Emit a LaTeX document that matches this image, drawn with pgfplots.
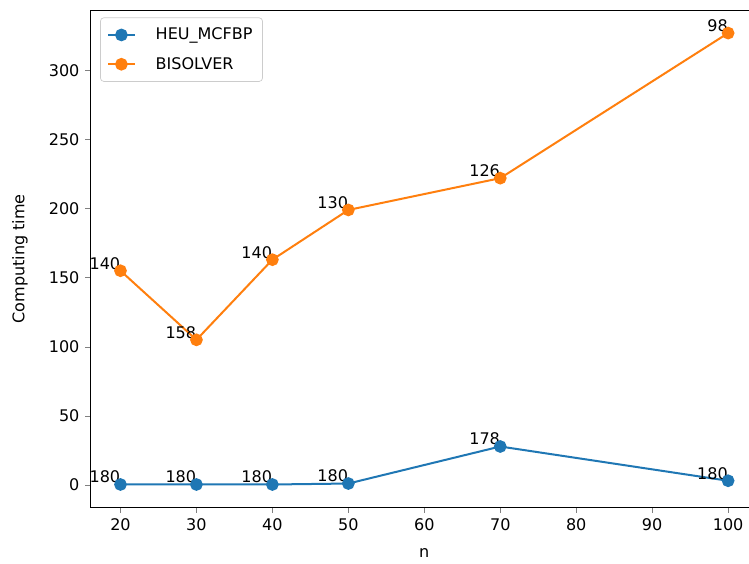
\documentclass[border=0pt]{standalone}
\usepackage{pgfplots}
\pgfplotsset{compat=1.18}
\usepackage{fontspec}
\setmainfont{DejaVu Sans}
\definecolor{tabblue}{HTML}{1F77B4}
\definecolor{taborange}{HTML}{FF7F0E}
\begin{document}
\fontsize{9.6}{11.5}\selectfont
\begin{tikzpicture}
\begin{axis}[
  name=ax,
  scale only axis,
  width=400.6pt, height=298.2pt,
  xmin=16, xmax=104, ymin=-16.4, ymax=343.7,
  xtick={20,30,...,100}, ytick={0,50,...,300},
  tick align=outside, tick pos=left,
  major tick length=3pt,
  /pgf/number format/assume math mode=true,
  tick label style={font=\fontsize{9.6}{11.5}\selectfont},
  label style={font=\fontsize{9.6}{11.5}\selectfont},
  xlabel={n}, ylabel={Computing time},
  xlabel style={yshift=-4pt},
  ylabel style={yshift=6pt},
  legend style={at={(0.015,0.985)}, anchor=north west, draw=black!20, rounded corners=2pt, font=\fontsize{9.6}{11.5}\selectfont, row sep=5pt, column sep=10pt, inner xsep=4pt, inner ysep=4pt},
  legend image code/.code={\draw[mark repeat=2,mark phase=2] plot coordinates {(0cm,0cm) (0.28cm,0cm) (0.56cm,0cm)};},
  legend cell align=left,
  axis line style={line width=0.6pt},
  clip=false,
]
\addplot[color=tabblue, line width=1.2pt, mark=*, mark size=3.2pt, mark options={solid, fill=tabblue}]
  coordinates {(20,0.3) (30,0.3) (40,0.3) (50,1) (70,27.8) (100,3)};
\addlegendentry{HEU\_MCFBP}
\addplot[color=taborange, line width=1.2pt, mark=*, mark size=3.2pt, mark options={solid, fill=taborange}]
  coordinates {(20,155) (30,105) (40,163) (50,199) (70,222) (100,327)};
\addlegendentry{BISOLVER}
\foreach \x/\y/\t in {20/0.3/180, 30/0.3/180, 40/0.3/180, 50/1/180, 70/27.8/178, 100/3/180,
                      20/155/140, 30/105/158, 40/163/140, 50/199/130, 70/222/126, 100/327/98} {
  \edef\temp{\noexpand\node[anchor=base east, inner sep=0pt, yshift=1pt, font=\noexpand\fontsize{9.6}{11.5}\noexpand\selectfont, text=black] at (axis cs:\x,\y) {\t};}
  \temp
}
\coordinate (TR) at (axis cs:102.75,343.7);
\end{axis}
\pgfresetboundingbox
\path[use as bounding box] (ax.south west) ++(-54pt,-33.6pt) rectangle ([yshift=6pt]TR);
\end{tikzpicture}
\end{document}
